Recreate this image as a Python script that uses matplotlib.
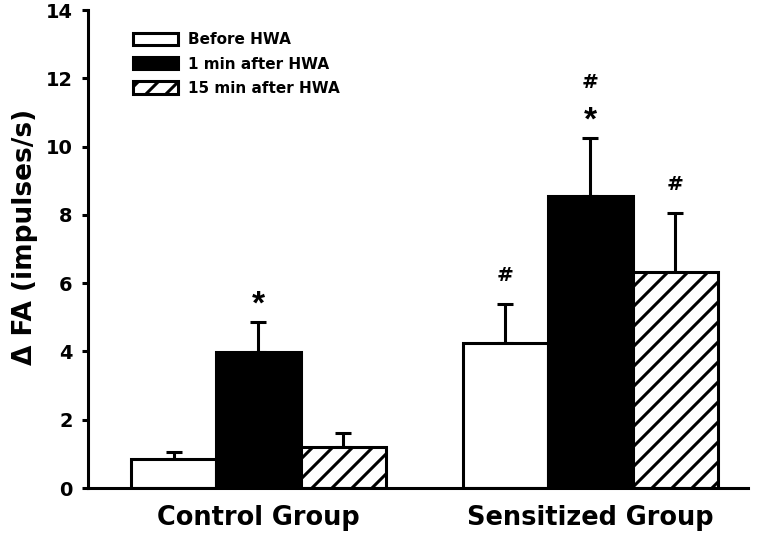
import numpy as np
import matplotlib
matplotlib.use("Agg")
import matplotlib.pyplot as plt

DPI = 120
k = 100 / DPI  # keep sizes as they were tuned at 100 dpi; higher dpi spreads the hatch

plt.rcParams['font.family'] = ['DejaVu Sans']
plt.rcParams['font.weight'] = 'bold'
plt.rcParams['hatch.linewidth'] = 2.2 * k

groups = ["Control Group", "Sensitized Group"]
series = ["Before HWA", "1 min after HWA", "15 min after HWA"]
means = {
    "Before HWA": [0.85, 4.25],
    "1 min after HWA": [3.98, 8.55],
    "15 min after HWA": [1.2, 6.32],
}
errs = {
    "Before HWA": [0.2, 1.15],
    "1 min after HWA": [0.89, 1.7],
    "15 min after HWA": [0.4, 1.73],
}
# significance marks above each bar (group, series index) -> marks, bottom up
marks = {
    (0, 1): ["*"],
    (1, 0): ["#"],
    (1, 1): ["*", "#"],
    (1, 2): ["#"],
}

fills = ["white", "black", "white"]
hatches = [None, None, "//"]
lw = 2.2 * k

fig = plt.figure(figsize=(760 / DPI, 534 / DPI), dpi=DPI)
ax = fig.add_axes([0.1158, 0.0861, 0.868, 0.895])

x = np.arange(len(groups))
w = 0.256
for i, s in enumerate(series):
    pos = x + (i - 1) * w
    ax.bar(pos, means[s], w, color=fills[i], edgecolor="black",
           linewidth=lw, hatch=hatches[i], label=s, zorder=2)
    ax.errorbar(pos, means[s], yerr=[[0, 0], errs[s]], fmt="none",
                ecolor="black", elinewidth=lw, capsize=5.7 * k, capthick=lw, zorder=1)

for (g, i), txts in marks.items():
    s = series[i]
    top = means[s][g] + errs[s][g]
    xp = x[g] + (i - 1) * w
    if txts[0] == "*":
        ax.text(xp, top + 0.05, "*", ha="center", va="bottom",
                fontsize=24 * k, fontweight="bold", family="Liberation Sans")
        if len(txts) > 1:
            ax.text(xp, top + 1.35, "#", ha="center", va="bottom",
                    fontsize=14.5 * k, fontweight="bold")
    else:
        ax.text(xp, top + 0.55, "#", ha="center", va="bottom",
                fontsize=14.5 * k, fontweight="bold")

ax.set_xlim(-0.5136, 1.474)
ax.set_ylim(0, 14)
ax.set_yticks(range(0, 15, 2))
ax.set_xticks(x)
ax.set_xticklabels(groups, fontsize=18.5 * k, fontweight="bold")
ax.tick_params(axis="x", length=0, pad=12 * k)
ax.tick_params(axis="y", direction="out", length=4 * k, width=lw,
               labelsize=14 * k, pad=7 * k)
for lab in ax.get_yticklabels():
    lab.set_fontweight("bold")
ax.spines["top"].set_visible(False)
ax.spines["right"].set_visible(False)
ax.spines["left"].set_linewidth(lw)
ax.spines["bottom"].set_linewidth(lw)
ax.set_ylabel("Δ FA (impulses/s)", fontsize=19 * k, fontweight="bold")
ax.yaxis.set_label_coords(-0.076, 0.525)

ax.legend(loc="upper left", bbox_to_anchor=(0.048, 0.982), frameon=False,
          prop={"size": 11 * k, "weight": "bold"}, handlelength=2.9, handleheight=0.85,
          labelspacing=0.6, handletextpad=0.7)

fig.savefig("out.png", dpi=DPI)
